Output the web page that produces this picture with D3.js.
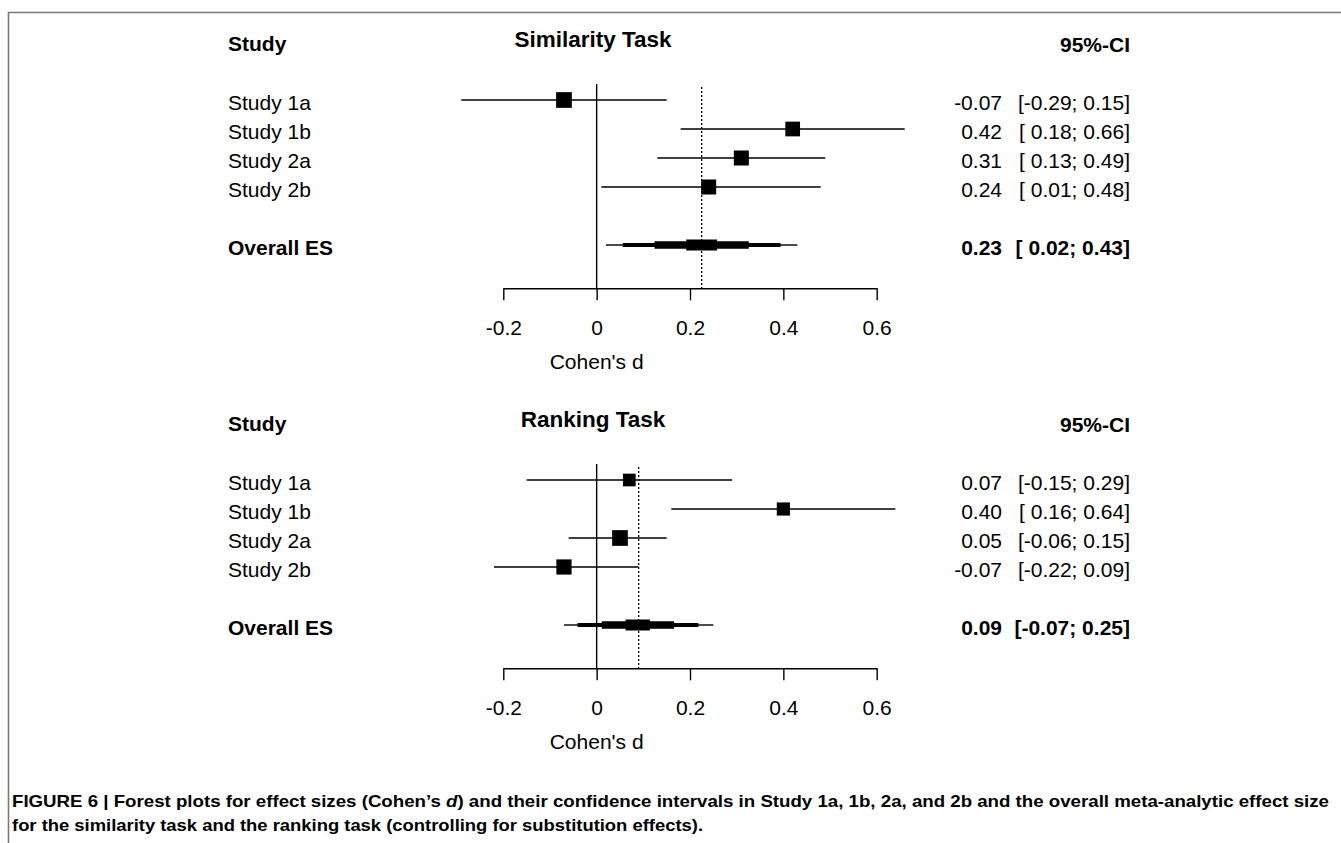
<!DOCTYPE html>
<html>
<head>
<meta charset="utf-8">
<script src="https://cdn.jsdelivr.net/npm/d3@7"></script>
<style>
  body { margin: 0; background: #fff; }
  svg text { white-space: pre; }
</style>
</head>
<body>
<div id="chart"></div>
<script>
// ---- data ----
const studies = ["Study 1a", "Study 1b", "Study 2a", "Study 2b"];
const overallLabel = "Overall ES";

// similarity task
const simEst = [-0.07, 0.42, 0.31, 0.24];
const simLower = [-0.29, 0.18, 0.13, 0.01];
const simUpper = [0.15, 0.66, 0.49, 0.48];
const simWeight = [27, 23.7, 24.7, 24.7];
const simOverall = 0.225;
const simOverallLower = 0.02;
const simOverallUpper = 0.43;
const simBandLo = [0.02, 0.056, 0.124, 0.192];
const simBandHi = [0.43, 0.394, 0.326, 0.258];

// ranking task
const rankEst = [0.07, 0.40, 0.05, -0.07];
const rankLower = [-0.15, 0.16, -0.06, -0.22];
const rankUpper = [0.29, 0.64, 0.15, 0.09];
const rankWeight = [19.8, 21.4, 30.4, 28.5];
const rankOverall = 0.09;
const rankOverallLower = -0.07;
const rankOverallUpper = 0.25;
const rankBandLo = [-0.07, -0.041, 0.011, 0.062];
const rankBandHi = [0.25, 0.218, 0.166, 0.114];

const xTicks = [-0.2, 0, 0.2, 0.4, 0.6];

const W = 1341, H = 843;
const font = "'Liberation Sans', Arial, Helvetica, sans-serif";
const fs = 21;

const svg = d3.select("#chart").append("svg").attr("width", W).attr("height", H);

// frame
svg.append("path").attr("d", `M8.5,${H} V12.5 H${W}`)
  .attr("fill", "none").attr("stroke", "#7a7a7a").attr("stroke-width", 1.6);

const x = d3.scaleLinear().domain([-0.2, 0.6]).range([503.3, 876.7]);
const f2 = d3.format(".2f");
const fmt = v => f2(v).replace("−", "-");
const ciText = (lo, hi) => "[" + (lo < 0 ? "" : " ") + fmt(lo) + "; " + fmt(hi) + "]";

function panel(offset, title, est, lower, upper, weight, overall, oLo, oHi, bandLo, bandHi) {
  const g = svg.append("g").attr("transform", `translate(0,${offset})`)
    .style("font-family", font).attr("fill", "#000");
  const y = d3.scaleLinear().domain([0, 5]).range([100, 245]);
  const axisY = 288.3;
  const box = d3.scaleSqrt().domain([0, d3.max(weight)]).range([0, 15.7]);

  // headers
  g.append("text").attr("x", 228).attr("y", 51).attr("font-weight", "bold")
    .attr("font-size", fs).text("Study");
  g.append("text").attr("x", 593).attr("y", 47).attr("font-weight", "bold")
    .attr("font-size", 22.5).attr("text-anchor", "middle").text(title);
  g.append("text").attr("x", 1130).attr("y", 51.5).attr("font-weight", "bold")
    .attr("font-size", fs).attr("text-anchor", "end").text("95%-CI");

  // reference lines
  g.append("line").attr("x1", x(0)).attr("x2", x(0)).attr("y1", 84).attr("y2", axisY)
    .attr("stroke", "#000").attr("stroke-width", 1.4);
  g.append("line").attr("x1", x(overall)).attr("x2", x(overall)).attr("y1", 87).attr("y2", axisY)
    .attr("stroke", "#000").attr("stroke-width", 1.3).attr("stroke-dasharray", "2,2");

  const rows = studies.map((s, i) => ({ s, i, est: est[i], lo: lower[i], hi: upper[i], w: weight[i] }));

  // CI lines
  g.selectAll("line.ci").data(rows).enter().append("line").attr("class", "ci")
    .attr("x1", d => x(d.lo)).attr("x2", d => x(d.hi))
    .attr("y1", d => y(d.i)).attr("y2", d => y(d.i))
    .attr("stroke", "#000").attr("stroke-width", 1.3);
  // boxes
  g.selectAll("rect.box").data(rows).enter().append("rect").attr("class", "box")
    .attr("x", d => x(d.est) - box(d.w) / 2).attr("y", d => y(d.i) - box(d.w) / 2)
    .attr("width", d => box(d.w)).attr("height", d => box(d.w)).attr("fill", "#000");

  // overall layered bar
  const thick = [1.4, 4, 7.5, 11];
  bandLo.forEach((lo, k) => {
    g.append("rect").attr("x", x(lo)).attr("width", x(bandHi[k]) - x(lo))
      .attr("y", y(5) - thick[k] / 2).attr("height", thick[k]).attr("fill", "#000");
  });

  // labels
  g.selectAll("text.lab").data(rows).enter().append("text").attr("class", "lab")
    .attr("x", 228).attr("y", d => y(d.i) + 9.5).attr("font-size", fs).text(d => d.s);
  g.selectAll("text.est").data(rows).enter().append("text").attr("class", "est")
    .attr("x", 1002).attr("y", d => y(d.i) + 9.5).attr("font-size", fs)
    .attr("text-anchor", "end").text(d => fmt(d.est));
  g.selectAll("text.ci").data(rows).enter().append("text").attr("class", "ci")
    .attr("x", 1130).attr("y", d => y(d.i) + 9.5).attr("font-size", fs)
    .attr("text-anchor", "end").text(d => ciText(d.lo, d.hi));

  g.append("text").attr("x", 228).attr("y", y(5) + 9.5).attr("font-size", fs)
    .attr("font-weight", "bold").text(overallLabel);
  g.append("text").attr("x", 1002).attr("y", y(5) + 9.5).attr("font-size", fs)
    .attr("font-weight", "bold").attr("text-anchor", "end").text(fmt(overall));
  g.append("text").attr("x", 1130).attr("y", y(5) + 9.5).attr("font-size", fs)
    .attr("font-weight", "bold").attr("text-anchor", "end").text(ciText(oLo, oHi));

  // axis
  const ax = g.append("g").attr("transform", `translate(0,${axisY})`)
    .call(d3.axisBottom(x).tickValues(xTicks).tickSize(12).tickSizeOuter(0)
      .tickPadding(20).tickFormat(d => String(d)));
  ax.attr("font-family", font).attr("font-size", fs);
  ax.selectAll("path,line").attr("stroke", "#000").attr("stroke-width", 1.4);
  ax.selectAll("text").attr("fill", "#000");

  g.append("text").attr("x", x(0)).attr("y", 369).attr("text-anchor", "middle")
    .attr("font-size", fs).text("Cohen's d");
}

panel(0, "Similarity Task", simEst, simLower, simUpper, simWeight,
  simOverall, simOverallLower, simOverallUpper, simBandLo, simBandHi);
panel(380, "Ranking Task", rankEst, rankLower, rankUpper, rankWeight,
  rankOverall, rankOverallLower, rankOverallUpper, rankBandLo, rankBandHi);

// caption (condensed bold, squeezed to the original line widths)
const capFont = "'Liberation Sans', Arial, sans-serif";
const cap1 = svg.append("text").attr("x", 12).attr("y", 806.5)
  .attr("font-family", capFont).attr("font-size", 16.5).attr("font-weight", "bold")
  .attr("textLength", 1317).attr("lengthAdjust", "spacingAndGlyphs");
cap1.append("tspan").text("FIGURE 6 | Forest plots for effect sizes (Cohen\u2019s ");
cap1.append("tspan").attr("font-style", "italic").text("d");
cap1.append("tspan").text(") and their confidence intervals in Study 1a, 1b, 2a, and 2b and the overall meta-analytic effect size");
svg.append("text").attr("x", 12).attr("y", 831)
  .attr("font-family", capFont).attr("font-size", 16.5).attr("font-weight", "bold")
  .attr("textLength", 691).attr("lengthAdjust", "spacingAndGlyphs")
  .text("for the similarity task and the ranking task (controlling for substitution effects).");
</script>
</body>
</html>
